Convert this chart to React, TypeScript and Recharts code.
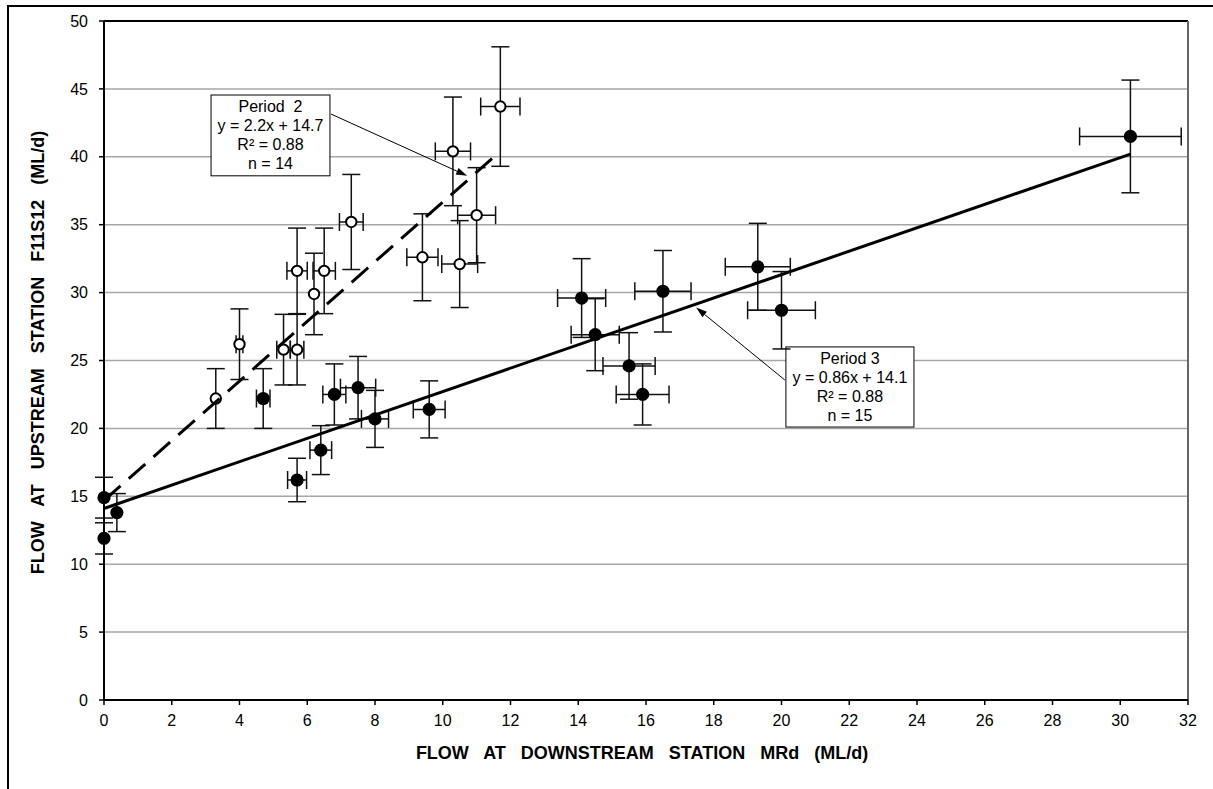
import React from 'react';
import {
  ScatterChart,
  Scatter,
  XAxis,
  YAxis,
  CartesianGrid,
  ErrorBar,
  ReferenceLine,
  ReferenceArea,
  Label,
} from 'recharts';

const FONT = '"Liberation Sans", Arial, Helvetica, sans-serif';

// Period 2 (open circles)
const p2Flow = [3.3, 4.0, 5.3, 5.7, 5.7, 6.2, 6.5, 7.3, 9.4, 10.3, 10.5, 11.0, 11.7];
const p2Up = [22.2, 26.2, 25.8, 25.8, 31.6, 29.9, 31.6, 35.2, 32.6, 40.4, 32.1, 35.7, 43.7];
const p2ErrX = [0, 0.1, 0.2, 0.2, 0.3, 0, 0.33, 0.35, 0.46, 0.52, 0.53, 0.56, 0.58];
const p2ErrY = [2.2, 2.6, 2.6, 2.6, 3.15, 3.0, 3.15, 3.5, 3.2, 4.0, 3.2, 3.5, 4.4];

// Period 3 (filled circles)
const p3Flow = [0, 0, 0.38, 4.7, 5.7, 6.4, 6.8, 7.5, 8.0, 9.6, 14.1, 14.5, 15.5, 15.9, 16.5, 19.3, 20.0, 30.3];
const p3Up = [11.9, 14.9, 13.8, 22.2, 16.2, 18.4, 22.5, 23.0, 20.7, 21.4, 29.6, 26.9, 24.6, 22.5, 30.1, 31.9, 28.7, 41.5];
const p3ErrX = [0, 0, 0, 0.2, 0.28, 0.32, 0.34, 0.52, 0.4, 0.47, 0.71, 0.71, 0.77, 0.78, 0.83, 0.96, 1.0, 1.5];
const p3ErrY = [1.15, 1.5, 1.4, 2.2, 1.6, 1.8, 2.25, 2.3, 2.1, 2.1, 2.9, 2.65, 2.45, 2.25, 3.0, 3.2, 2.85, 4.15];

// fitted lines (end points)
const p2FitX = [0, 11.7];
const p2FitY = [14.7, 40.4];
const p3FitX = [0, 30.3];
const p3FitY = [14.1, 40.2];

// axis ticks
const xTicks = [0, 2, 4, 6, 8, 10, 12, 14, 16, 18, 20, 22, 24, 26, 28, 30, 32];
const yTicks = [0, 5, 10, 15, 20, 25, 30, 35, 40, 45, 50];

// annotation text
const p2Note = ['Period  2', 'y = 2.2x + 14.7', 'R² = 0.88', 'n = 14'];
const p3Note = ['Period 3', 'y = 0.86x + 14.1', 'R² = 0.88', 'n = 15'];

const toRows = (xs: number[], ys: number[], ex: number[] = [], ey: number[] = []) =>
  xs.map((x, i) => ({ x, y: ys[i], ex: ex[i] ?? 0, ey: ey[i] ?? 0 }));

const p2Data = toRows(p2Flow, p2Up, p2ErrX, p2ErrY);
const p3Data = toRows(p3Flow, p3Up, p3ErrX, p3ErrY);
const p2Fit = toRows(p2FitX, p2FitY);
const p3Fit = toRows(p3FitX, p3FitY);

const OpenDot = ({ cx, cy }: any) => (
  <circle cx={cx} cy={cy} r={5.2} fill="#fff" stroke="#000" strokeWidth={2} />
);
const FilledDot = ({ cx, cy }: any) => <circle cx={cx} cy={cy} r={6.6} fill="#000" />;
const NoDot = () => <g />;

const NoteBox = ({ x, y, width, height, lines }: any) => (
  <g>
    <rect x={x} y={y} width={width} height={height} fill="#fff" stroke="#000" strokeWidth={1} />
    <text
      fontFamily={FONT}
      fontSize={16}
      fill="#000"
      textAnchor="middle"
      style={{ whiteSpace: 'pre' }}
    >
      {lines.map((t: string, i: number) => (
        <tspan key={i} x={x + width / 2} y={y + 17 + i * 19}>
          {t}
        </tspan>
      ))}
    </text>
  </g>
);

const Arrow = ({ x1, y1, x2, y2 }: any) => {
  const a = Math.atan2(y2 - y1, x2 - x1);
  const len = 11;
  const half = 3.5;
  const bx = x2 - len * Math.cos(a);
  const by = y2 - len * Math.sin(a);
  const pts = `${x2},${y2} ${bx - half * Math.sin(a)},${by + half * Math.cos(a)} ${bx + half * Math.sin(a)},${by - half * Math.cos(a)}`;
  return (
    <g>
      <line x1={x1} y1={y1} x2={bx} y2={by} stroke="#000" strokeWidth={1} />
      <polygon points={pts} fill="#000" />
    </g>
  );
};

const YTitle = ({ viewBox }: any) => {
  const cx = viewBox.x + 30;
  const cy = viewBox.y + viewBox.height / 2 - 8;
  return (
    <text
      x={cx}
      y={cy}
      transform={`rotate(-90 ${cx} ${cy})`}
      textAnchor="middle"
      dominantBaseline="central"
      fontFamily={FONT}
      fontSize={18}
      fontWeight="bold"
      fill="#000"
      style={{ wordSpacing: 10 }}
    >
      FLOW AT UPSTREAM STATION F11S12 (ML/d)
    </text>
  );
};

const XTitle = ({ viewBox }: any) => (
  <text
    x={viewBox.x + viewBox.width / 2 - 4}
    y={viewBox.y + 59}
    textAnchor="middle"
    fontFamily={FONT}
    fontSize={18}
    fontWeight="bold"
    fill="#000"
    style={{ wordSpacing: 10 }}
  >
    FLOW AT DOWNSTREAM STATION MRd (ML/d)
  </text>
);

const tickStyle = { fontFamily: FONT, fontSize: 16, fill: '#000' };

export default function App() {
  return (
    <div style={{ position: 'absolute', left: 0, top: 0, width: 1213, height: 789, overflow: 'hidden', background: '#fff' }}>
      <style>{'body{margin:0;overflow:hidden;}'}</style>
      <div style={{ position: 'absolute', left: 8, top: 8 }}>
        <ScatterChart width={1205} height={781} margin={{ top: 13, right: 25, bottom: 29, left: 0 }}>
          <CartesianGrid vertical={false} stroke="#a6a6a6" strokeWidth={1.5} />
          <XAxis
            type="number"
            dataKey="x"
            domain={[0, 32]}
            ticks={xTicks}
            interval={0}
            height={60}
            tick={tickStyle}
            tickSize={5}
            tickMargin={10}
            axisLine={{ stroke: '#000', strokeWidth: 2 }}
            tickLine={{ stroke: '#000', strokeWidth: 1.5 }}
          >
            <Label content={XTitle} />
          </XAxis>
          <YAxis
            type="number"
            dataKey="y"
            domain={[0, 50]}
            ticks={yTicks}
            interval={0}
            width={96}
            tick={tickStyle}
            tickSize={5}
            tickMargin={11}
            axisLine={{ stroke: '#000', strokeWidth: 2 }}
            tickLine={{ stroke: '#000', strokeWidth: 1.5 }}
          >
            <Label content={YTitle} />
          </YAxis>
          <ReferenceLine y={50} stroke="#000" strokeWidth={2} />
          <ReferenceLine x={32} stroke="#666" strokeWidth={2} />

          <Scatter data={p3Data} shape={FilledDot} isAnimationActive={false}>
            <ErrorBar dataKey="ey" direction="y" width={9} stroke="#111" strokeWidth={1.5} />
            <ErrorBar dataKey="ex" direction="x" width={9} stroke="#111" strokeWidth={1.5} />
          </Scatter>
          <Scatter data={p2Data} shape={OpenDot} isAnimationActive={false}>
            <ErrorBar dataKey="ey" direction="y" width={9} stroke="#111" strokeWidth={1.5} />
            <ErrorBar dataKey="ex" direction="x" width={9} stroke="#111" strokeWidth={1.5} />
          </Scatter>

          <Scatter
            data={p3Fit}
            shape={NoDot}
            line={{ stroke: '#000', strokeWidth: 3 }}
            isAnimationActive={false}
          />
          <Scatter
            data={p2Fit}
            shape={NoDot}
            line={{ stroke: '#000', strokeWidth: 3, strokeDasharray: '22 11' }}
            isAnimationActive={false}
          />

          <ReferenceLine
            segment={[{ x: 6.7, y: 43.15 }, { x: 10.72, y: 38.6 }]}
            shape={Arrow}
          />
          <ReferenceLine
            segment={[{ x: 20.1, y: 23.56 }, { x: 17.48, y: 28.9 }]}
            shape={Arrow}
          />
          <ReferenceArea
            x1={3.16}
            x2={6.67}
            y1={38.6}
            y2={44.55}
            shape={(p: any) => <NoteBox {...p} lines={p2Note} />}
          />
          <ReferenceArea
            x1={20.13}
            x2={23.91}
            y1={20.1}
            y2={26.0}
            shape={(p: any) => <NoteBox {...p} lines={p3Note} />}
          />
        </ScatterChart>
      </div>
      <div
        style={{
          position: 'absolute',
          left: 7,
          top: 5,
          width: 1220,
          height: 800,
          borderTop: '2px solid #000',
          borderLeft: '2px solid #000',
          pointerEvents: 'none',
        }}
      />
    </div>
  );
}
